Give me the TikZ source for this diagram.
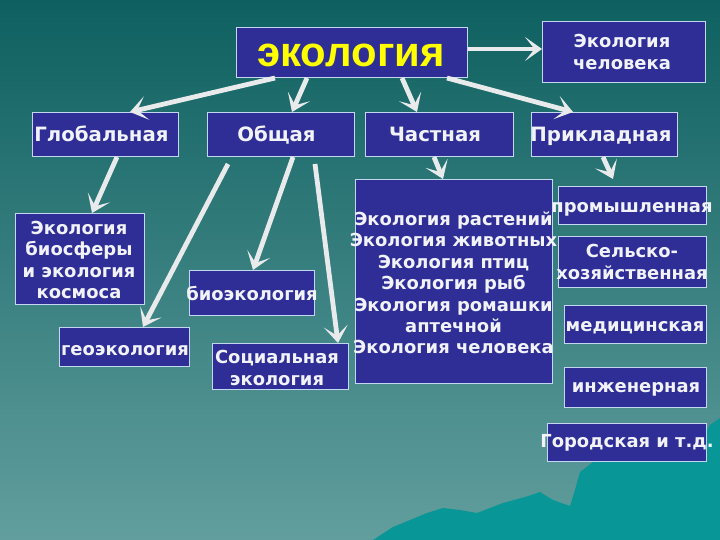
\documentclass[tikz,border=0pt]{standalone}
\usepackage{fontspec}
\setmainfont{DejaVu Sans}
\newfontfamily\titlefont{Liberation Sans}
\usetikzlibrary{arrows.meta,calc}
\definecolor{bgtop}{RGB}{14,96,96}
\definecolor{bgmid}{RGB}{52,128,126}
\definecolor{bgbot}{RGB}{98,158,158}
\definecolor{wavec}{RGB}{8,150,150}
\definecolor{boxfill}{RGB}{46,46,150}
\definecolor{boxline}{RGB}{195,215,240}
\definecolor{txtc}{RGB}{242,242,250}
\definecolor{arrc}{RGB}{232,234,236}
\definecolor{titlec}{RGB}{255,255,0}
\tikzset{
  box/.style={draw=boxline, fill=boxfill, line width=1bp, inner sep=0pt, anchor=north west},
  txt/.style={text=txtc, font=\bfseries\fontsize{18}{21.5}\selectfont, align=center, inner sep=0pt},
  bigtxt/.style={txt, font=\bfseries\fontsize{19.8}{22}\selectfont, anchor=base},
  arr/.style={draw=arrc, line width=4.8bp, -{Stealth[length=17bp,width=24bp,inset=9.5bp]}},
}
\begin{document}
\begin{tikzpicture}[x=1bp,y=-1bp]
\useasboundingbox (0,0) rectangle (720,540);
% background
\shade[top color=bgtop, middle color=bgmid, bottom color=bgbot] (0,0) rectangle (720,540);
\fill[wavec] (373,540) -- (393,527) -- (427,513) -- (443,508) -- (460,510) -- (477,513)
  -- (503,503) -- (525,497) -- (540,492) -- (553,500) -- (570,506) -- (575,490)
  -- (580,472) -- (593,462) -- (650,455) -- (700,440) -- (710,425) -- (720,418)
  -- (720,540) -- cycle;
% boxes
\node[box, minimum width=231bp, minimum height=50bp] (eco) at (236,27) {};
\node[box, minimum width=163bp, minimum height=61bp] (chel) at (542,21) {};
\node[box, minimum width=146bp, minimum height=44bp] (glob) at (32,112) {};
\node[box, minimum width=147bp, minimum height=44bp] (obsh) at (207,112) {};
\node[box, minimum width=148bp, minimum height=44bp] (chast) at (365,112) {};
\node[box, minimum width=146bp, minimum height=44bp] (prik) at (531,112) {};
\node[box, minimum width=129bp, minimum height=91bp] (bios) at (15,213) {};
\node[box, minimum width=130bp, minimum height=39bp] (geo) at (59,327) {};
\node[box, minimum width=125bp, minimum height=45bp] (bio) at (189,270) {};
\node[box, minimum width=136bp, minimum height=46bp] (soc) at (212,343) {};
\node[box, minimum width=197bp, minimum height=204bp] (big) at (355,179) {};
\node[box, minimum width=148bp, minimum height=38bp] (prom) at (558,186) {};
\node[box, minimum width=148bp, minimum height=51bp] (sel) at (558,236) {};
\node[box, minimum width=142bp, minimum height=38bp] (med) at (564,305) {};
\node[box, minimum width=142bp, minimum height=40bp] (inzh) at (564,367) {};
\node[box, minimum width=159bp, minimum height=38bp] (gor) at (547,423) {};
% texts
\node[txt, text=titlec, font=\titlefont\bfseries\fontsize{42}{44}\selectfont, anchor=base] (ecot) at (351,67) {экология};
\node[txt] (chelt) at (622,52) {Экология\\человека};
\node[bigtxt] (globt) at (101.5,142) {Глобальная};
\node[bigtxt] (obsht) at (276.5,142) {Общая};
\node[bigtxt] (chastt) at (435,142) {Частная};
\node[bigtxt] (prikt) at (601,142) {Прикладная};
\node[txt] (biost) at (79,260) {Экология\\биосферы\\и экология\\космоса};
\node[txt, anchor=base] (geot) at (125,355) {геоэкология};
\node[txt, anchor=base] (biot) at (252,300.5) {биоэкология};
\node[txt] (soct) at (277,368) {Социальная\\экология};
\node[txt] (bigt) at (453.5,283) {Экология растений\\Экология животных\\Экология птиц\\Экология рыб\\Экология ромашки\\аптечной\\Экология человека};
\node[txt, anchor=base] (promt) at (632,213) {промышленная};
\node[txt] (selt) at (632,262) {Сельско-\\хозяйственная};
\node[txt, anchor=base] (medt) at (635,331.5) {медицинская};
\node[txt, anchor=base] (inzht) at (636,392.5) {инженерная};
\node[txt, anchor=base] (gort) at (627,447) {Городская и т.д.};
% arrows
\draw[arr] ($(eco.south west)+(39,0)$) -- ($(glob.north west)+(98,0)$);
\draw[arr] ($(eco.south west)+(71,0)$) -- ($(obsh.north west)+(85,0)$);
\draw[arr] ($(eco.south west)+(166,0)$) -- ($(chast.north west)+(52,0)$);
\draw[arr] ($(eco.south west)+(211,0)$) -- ($(prik.north west)+(42,0)$);
\draw[arr] ($(eco.north east)+(0,22)$) -- ($(chel.north west)+(0,28)$);
\draw[arr] ($(glob.south west)+(85,0)$) -- ($(bios.north west)+(77,0)$);
\draw[arr] ($(obsh.south west)+(21,7)$) -- ($(geo.north west)+(84,0)$);
\draw[arr] ($(obsh.south west)+(86,0)$) -- ($(bio.north west)+(64,0)$);
\draw[arr] ($(obsh.south west)+(108,7)$) -- ($(soc.north west)+(126,0)$);
\draw[arr] ($(chast.south west)+(69,0)$) -- ($(big.north west)+(88,0)$);
\draw[arr] ($(prik.south west)+(72,0)$) -- ($(prom.north west)+(55,-7)$);
\end{tikzpicture}
\end{document}
